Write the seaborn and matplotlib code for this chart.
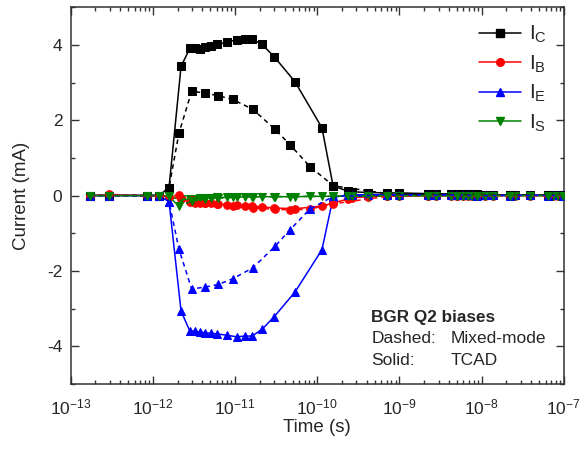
import matplotlib
matplotlib.use("Agg")
import matplotlib.pyplot as plt
import seaborn as sns
import numpy as np
import pandas as pd
from matplotlib.lines import Line2D
from matplotlib.ticker import LogLocator, MultipleLocator

# ---- data ----
t_tcad = [1.72e-13, 2.95e-13, 8.41e-13, 1.19e-12, 1.57e-12, 2.20e-12, 2.82e-12, 3.25e-12,
          3.74e-12, 4.31e-12, 5.08e-12, 6.01e-12, 7.98e-12, 1.05e-11, 1.32e-11, 1.61e-11,
          2.13e-11, 2.98e-11, 5.36e-11, 1.14e-10, 1.56e-10, 2.36e-10, 2.64e-10, 4.13e-10,
          7.05e-10, 9.86e-10, 2.22e-9, 2.78e-9, 4.23e-9, 5.00e-9, 5.92e-9, 6.81e-9,
          7.62e-9, 8.77e-9, 1.10e-8, 1.37e-8, 2.21e-8, 2.54e-8, 3.86e-8, 6.40e-8,
          7.36e-8, 8.47e-8, 9.75e-8]
ic_tcad = [0, 0, 0, 0, 0.21, 3.43, 3.91, 3.92, 3.89, 3.93, 3.96, 4.01, 4.07, 4.14, 4.15, 4.15,
           4.01, 3.69, 3.02, 1.80, 0.25, 0.12, 0.10, 0.08, 0.07, 0.07, 0.05, 0.05, 0.04, 0.04,
           0.04, 0.03, 0.03, 0.03, 0.02, 0.02, 0.02, 0.01, 0.01, 0.01, 0.01, 0.01, 0.01]
ib_tcad = [0, 0.02, 0, 0, -0.03, -0.10, -0.17, -0.19, -0.20, -0.20, -0.21, -0.22, -0.24, -0.25,
           -0.27, -0.28, -0.30, -0.33, -0.35, -0.28, -0.20, -0.09, -0.06, -0.03, -0.01, -0.01,
           0, 0, 0, 0, 0, 0, 0, 0, 0, 0, 0, 0, 0, 0, 0, 0, 0]
ie_tcad = [0, 0, 0, 0, -0.16, -3.07, -3.60, -3.60, -3.63, -3.64, -3.66, -3.67, -3.71, -3.75,
           -3.73, -3.73, -3.55, -3.22, -2.56, -1.44, -0.05, 0.02, 0.02, 0.02, 0.02, 0.02, 0.02,
           0.02, 0.02, 0.02, 0.02, 0.02, 0.02, 0.01, 0.01, 0.01, 0.01, 0.01, 0.01, 0.01, 0.01,
           0.01, 0.01]
is_tcad = [0, 0, 0, 0, -0.02, -0.10, -0.10, -0.08, -0.07, -0.06, -0.06, -0.05, -0.05, -0.04,
           -0.04, -0.04, -0.03, -0.03, -0.03, -0.02, -0.02, -0.02, -0.02, -0.01, -0.01, -0.01,
           -0.01, -0.01, -0.01, -0.01, 0, 0, 0, 0, 0, 0, 0, 0, 0, 0, 0, 0, 0]

t_mm = [1.72e-13, 2.95e-13, 8.41e-13, 1.19e-12, 1.57e-12, 2.07e-12, 2.96e-12, 4.31e-12,
        6.25e-12, 9.35e-12, 1.64e-11, 3.06e-11, 4.65e-11, 8.14e-11, 1.57e-10, 7.05e-10,
        2.22e-9, 5.00e-9, 8.77e-9, 2.21e-8, 6.40e-8, 9.75e-8]
ic_mm = [0, 0, 0, 0, 0.21, 1.65, 2.77, 2.72, 2.65, 2.55, 2.29, 1.76, 1.35, 0.77, 0.26, 0.05,
         0.03, 0.02, 0.01, 0.01, 0.01, 0]
ib_mm = [0, 0.03, 0, 0, -0.03, 0.02, -0.13, -0.19, -0.22, -0.28, -0.32, -0.37, -0.38, -0.36,
         -0.22, -0.02, 0, 0, 0, 0, 0, 0]
ie_mm = [0, 0, 0, 0, -0.16, -1.42, -2.48, -2.43, -2.36, -2.21, -1.92, -1.35, -0.91, -0.36,
         -0.02, 0.01, 0.01, 0.01, 0, 0, 0, 0]
is_mm = [0, 0, 0, 0, -0.02, -0.29, -0.15, -0.10, -0.07, -0.05, -0.04, -0.03, -0.03, -0.02,
         -0.02, 0, 0, 0, 0, 0, 0, 0]

series_names = ["C", "B", "E", "S"]
colors = ["black", "red", "blue", "green"]
markers = ["s", "o", "^", "v"]

# ---- style ----
sns.set_theme(style="ticks")
plt.rcParams["font.family"] = ["Liberation Sans", "DejaVu Sans"]
plt.rcParams["axes.unicode_minus"] = False
plt.rcParams["mathtext.default"] = "regular"

fig = plt.figure(figsize=(5.8, 4.49), dpi=100)
ax = fig.add_axes([0.122, 0.145, 0.850, 0.839])

tcad = [ic_tcad, ib_tcad, ie_tcad, is_tcad]
mm = [ic_mm, ib_mm, ie_mm, is_mm]
for name, col, mk, ys in zip(series_names, colors, markers, tcad):
    df = pd.DataFrame({"t": t_tcad, "i": ys})
    sns.lineplot(data=df, x="t", y="i", color=col, marker=mk, markersize=5.5,
                 markeredgecolor=col, linewidth=1.1, linestyle="-", ax=ax, legend=False,
                 sort=False, zorder=3)
for name, col, mk, ys in zip(series_names, colors, markers, mm):
    df = pd.DataFrame({"t": t_mm, "i": ys})
    sns.lineplot(data=df, x="t", y="i", color=col, marker=mk, markersize=5.5,
                 markeredgecolor=col, linewidth=1.1, linestyle=(0, (3, 2.5)), ax=ax,
                 legend=False, sort=False, zorder=3)

ax.set_xscale("log")
ax.set_xlim(1e-13, 1e-7)
ax.set_ylim(-5, 5)
ax.xaxis.set_major_locator(LogLocator(base=10, numticks=20))
ax.xaxis.set_minor_locator(LogLocator(base=10, subs=np.arange(2, 10), numticks=20))
ax.yaxis.set_major_locator(MultipleLocator(2))
ax.yaxis.set_minor_locator(MultipleLocator(1))
ax.tick_params(which="both", direction="in", top=True, right=True, labelsize=12.5,
               width=1, color="#333333")
ax.tick_params(which="major", length=6)
ax.tick_params(axis="x", which="major", pad=10)
ax.tick_params(axis="y", which="major", pad=6)
ax.tick_params(which="minor", length=3)
for s in ax.spines.values():
    s.set_linewidth(1.1)
    s.set_color("#333333")
ax.set_xlabel("Time (s)", fontsize=13.5, labelpad=1)
ax.set_ylabel("Current (mA)", fontsize=13.5, labelpad=12)

handles = [Line2D([], [], color=c, marker=m, markersize=5.5, linewidth=1.1)
           for c, m in zip(colors, markers)]
labels = [f"I$_{{{n}}}$" for n in series_names]
ax.legend(handles, labels, loc="upper right", frameon=False, fontsize=15,
          handlelength=2.0, labelspacing=0.4, handletextpad=0.4,
          bbox_to_anchor=(1.0, 1.0), borderaxespad=0.4)

tx1, tx2 = 0.61, 0.771
ax.text(tx1, 0.165, "BGR Q2 biases", transform=ax.transAxes, fontsize=12.3,
        fontweight="bold", va="baseline")
ax.text(tx1, 0.108, "Dashed:", transform=ax.transAxes, fontsize=12.5, va="baseline")
ax.text(tx2, 0.108, "Mixed-mode", transform=ax.transAxes, fontsize=12.5, va="baseline")
ax.text(tx1, 0.050, "Solid:", transform=ax.transAxes, fontsize=12.5, va="baseline")
ax.text(tx2, 0.050, "TCAD", transform=ax.transAxes, fontsize=12.5, va="baseline")

fig.savefig("out.png", dpi=100)
